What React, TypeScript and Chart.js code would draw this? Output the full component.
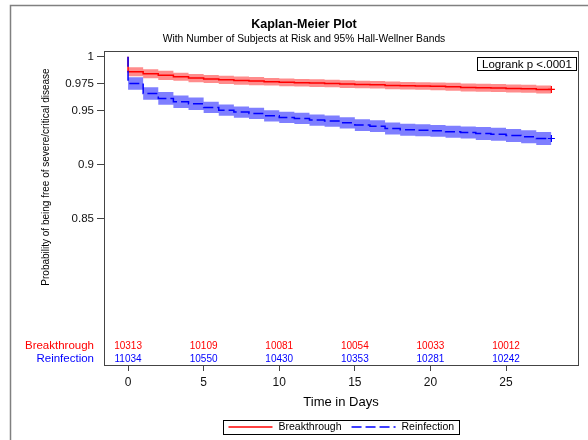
import { useEffect, useRef } from "react";
import { Chart, registerables } from "chart.js";

Chart.register(...registerables);

// Event days (value holds from day d until d + 1) and end of follow-up
const days = [0, 1, 2, 3, 4, 5, 6, 7, 8, 9, 10, 11, 12, 13, 14, 15, 16, 17, 18, 19, 20, 21, 22, 23, 24, 25, 26, 27];
const endDay = 28;

const breakthroughSurv = [
  0.9861, 0.9843, 0.9828, 0.9815, 0.9803, 0.9794, 0.9787, 0.978, 0.9775, 0.9769,
  0.9763, 0.976, 0.9756, 0.9753, 0.9747, 0.9744, 0.9741, 0.9735, 0.9732, 0.9729,
  0.9726, 0.9722, 0.9716, 0.9713, 0.971, 0.9707, 0.9704, 0.9698,
];
const breakthroughUpper = [
  0.9903, 0.9885, 0.987, 0.9853, 0.9841, 0.9832, 0.9825, 0.9818, 0.9813, 0.9804,
  0.9798, 0.9795, 0.9791, 0.9788, 0.9782, 0.9779, 0.9776, 0.977, 0.9767, 0.9764,
  0.9761, 0.9759, 0.9753, 0.975, 0.9747, 0.9744, 0.9741, 0.9735,
];
const breakthroughLower = [
  0.9819, 0.9801, 0.9786, 0.9777, 0.9765, 0.9756, 0.9749, 0.9742, 0.9737, 0.9734,
  0.9728, 0.9725, 0.9721, 0.9718, 0.9712, 0.9709, 0.9706, 0.97, 0.9697, 0.9694,
  0.9691, 0.9685, 0.9679, 0.9676, 0.9673, 0.967, 0.9667, 0.9661,
];

const reinfectionSurv = [
  0.9753, 0.9661, 0.9615, 0.9584, 0.9565, 0.9531, 0.9506, 0.9488, 0.9476, 0.9454,
  0.9439, 0.9429, 0.9414, 0.9405, 0.9389, 0.9368, 0.9358, 0.9336, 0.9325, 0.932,
  0.9315, 0.9306, 0.93, 0.929, 0.9284, 0.9272, 0.926, 0.9244,
];
const reinfectionUpper = [
  0.9811, 0.9719, 0.9673, 0.9642, 0.9623, 0.9583, 0.9558, 0.954, 0.9528, 0.9506,
  0.9491, 0.9481, 0.9466, 0.9457, 0.9441, 0.9423, 0.9413, 0.9391, 0.938, 0.9375,
  0.937, 0.9361, 0.9355, 0.935, 0.9344, 0.9332, 0.932, 0.9304,
];
const reinfectionLower = [
  0.9695, 0.9603, 0.9557, 0.9526, 0.9507, 0.9479, 0.9454, 0.9436, 0.9424, 0.9402,
  0.9387, 0.9377, 0.9362, 0.9353, 0.9337, 0.9313, 0.9303, 0.9281, 0.927, 0.9265,
  0.926, 0.9251, 0.9245, 0.923, 0.9224, 0.9212, 0.92, 0.9184,
];

// Number of subjects at risk
const atRiskDays = [0, 5, 10, 15, 20, 25];
const breakthroughAtRisk = [10313, 10109, 10081, 10054, 10033, 10012];
const reinfectionAtRisk = [11034, 10550, 10430, 10353, 10281, 10242];

const xTickValues = [0, 5, 10, 15, 20, 25];
const yTickValues = [1, 0.975, 0.95, 0.9, 0.85];
const yTickLabels = ["1", "0.975", "0.95", "0.9", "0.85"];

const groupNames = ["Breakthrough", "Reinfection"];
const titleText = "Kaplan-Meier Plot";
const subtitleText = "With Number of Subjects at Risk and 95% Hall-Wellner Bands";
const xTitle = "Time in Days";
const yTitle = "Probability of being free of severe/critical disease";
const logrankText = "Logrank p <.0001";

const FONT = '"Liberation Sans", Arial, Helvetica, sans-serif';
const RED = "#ff0000";
const BLUE = "#0000ff";
const RED_BAND = "rgba(255, 0, 0, 0.45)";
const BLUE_BAND = "rgba(0, 0, 255, 0.5)";
const BLUE_DASH = [10, 4];

function curvePoints(surv: number[]) {
  return [
    { x: 0, y: 1 },
    ...days.map((d, i) => ({ x: d, y: surv[i] })),
    { x: endDay, y: surv[surv.length - 1] },
  ];
}

function bandPoints(vals: number[]) {
  return [
    ...days.map((d, i) => ({ x: d, y: vals[i] })),
    { x: endDay, y: vals[vals.length - 1] },
  ];
}

const lastPointRadius = (n: number) => (ctx: any) => (ctx.dataIndex === n - 1 ? 3.5 : 0);

const decorPlugin = {
  id: "kmDecor",
  afterDraw(chart: any) {
    const { ctx, chartArea: a, scales } = chart;
    const x = scales.x;
    const midX = (a.left + a.right) / 2;
    ctx.save();

    // outer frame
    ctx.strokeStyle = "#808080";
    ctx.lineWidth = 1.5;
    ctx.strokeRect(10.5, 5.5, 800, 600);

    // plot frame
    ctx.strokeStyle = "#444";
    ctx.lineWidth = 1;
    ctx.strokeRect(Math.round(a.left) + 0.5, Math.round(a.top) + 0.5, Math.round(a.right - a.left), Math.round(a.bottom - a.top));

    // titles
    ctx.fillStyle = "#000";
    ctx.textAlign = "center";
    ctx.textBaseline = "alphabetic";
    ctx.font = `bold 12.5px ${FONT}`;
    ctx.fillText(titleText, 304, 28);
    ctx.font = `10.3px ${FONT}`;
    ctx.fillText(subtitleText, 304, 41.5);

    // axis titles
    ctx.textBaseline = "middle";
    ctx.font = `13px ${FONT}`;
    ctx.fillText(xTitle, midX, a.bottom + 37);
    ctx.save();
    ctx.translate(46, a.top + 126);
    ctx.rotate(-Math.PI / 2);
    ctx.font = `10px ${FONT}`;
    ctx.fillText(yTitle, 0, 0);
    ctx.restore();

    // at-risk table
    const rows = [
      { name: groupNames[0], color: RED, counts: breakthroughAtRisk, y: a.bottom - 19 },
      { name: groupNames[1], color: BLUE, counts: reinfectionAtRisk, y: a.bottom - 6 },
    ];
    rows.forEach((r) => {
      ctx.fillStyle = r.color;
      ctx.textAlign = "right";
      ctx.font = `11.5px ${FONT}`;
      ctx.fillText(r.name, a.left - 10, r.y);
      ctx.textAlign = "center";
      ctx.font = `10px ${FONT}`;
      atRiskDays.forEach((d, i) => {
        ctx.fillText(String(r.counts[i]), x.getPixelForValue(d), r.y);
      });
    });

    // logrank inset
    ctx.font = `11.5px ${FONT}`;
    const lw = ctx.measureText(logrankText).width + 9;
    const bx = Math.round(a.right - 2 - lw) + 0.5;
    const by = Math.round(a.top + 6) + 0.5;
    ctx.strokeStyle = "#000";
    ctx.lineWidth = 1;
    ctx.strokeRect(bx, by, Math.round(lw), 13);
    ctx.fillStyle = "#000";
    ctx.textAlign = "left";
    ctx.fillText(logrankText, bx + 4.5, by + 7);

    // legend
    ctx.font = `10.5px ${FONT}`;
    const sample = 44;
    const w1 = ctx.measureText(groupNames[0]).width;
    const w2 = ctx.measureText(groupNames[1]).width;
    const total = 5 + sample + 6 + w1 + 10 + sample + 6 + w2 + 5;
    const lx = Math.round(midX - total / 2) + 0.5;
    const ly = Math.round(a.bottom + 55) + 0.5;
    ctx.strokeStyle = "#000";
    ctx.strokeRect(lx, ly, Math.round(total), 14);
    const cy = ly + 6.5;
    let cx = lx + 5;
    ctx.lineWidth = 1.5;
    ctx.strokeStyle = RED;
    ctx.beginPath();
    ctx.moveTo(cx, cy);
    ctx.lineTo(cx + sample, cy);
    ctx.stroke();
    cx += sample + 6;
    ctx.fillStyle = "#000";
    ctx.fillText(groupNames[0], cx, ly + 7);
    cx += w1 + 10;
    ctx.strokeStyle = BLUE;
    ctx.setLineDash(BLUE_DASH);
    ctx.beginPath();
    ctx.moveTo(cx, cy);
    ctx.lineTo(cx + sample, cy);
    ctx.stroke();
    ctx.setLineDash([]);
    cx += sample + 6;
    ctx.fillText(groupNames[1], cx, ly + 7);

    ctx.restore();
  },
};

export default function App() {
  const canvasRef = useRef<HTMLCanvasElement | null>(null);

  useEffect(() => {
    document.body.style.margin = "0";
    const canvas = canvasRef.current;
    if (!canvas) return;
    const nb = curvePoints(breakthroughSurv).length;
    const nr = curvePoints(reinfectionSurv).length;

    const chart = new Chart(canvas, {
      type: "line",
      data: {
        datasets: [
          {
            label: groupNames[0],
            data: curvePoints(breakthroughSurv),
            order: 1,
            borderColor: RED,
            borderWidth: 1.5,
            stepped: "before",
            fill: false,
            pointStyle: "cross",
            pointRadius: lastPointRadius(nb),
            pointHoverRadius: 0,
            pointBorderColor: RED,
            pointBorderWidth: 1.2,
          },
          {
            label: groupNames[1],
            data: curvePoints(reinfectionSurv),
            order: 0,
            borderColor: BLUE,
            borderWidth: 1.5,
            borderDash: BLUE_DASH,
            stepped: "before",
            fill: false,
            pointStyle: "cross",
            pointRadius: lastPointRadius(nr),
            pointHoverRadius: 0,
            pointBorderColor: BLUE,
            pointBorderWidth: 1.2,
          },
          {
            label: "Breakthrough upper",
            data: bandPoints(breakthroughUpper),
            order: 2,
            borderWidth: 0,
            borderColor: "rgba(0,0,0,0)",
            backgroundColor: RED_BAND,
            stepped: "before",
            pointRadius: 0,
            fill: "+1",
          },
          {
            label: "Breakthrough lower",
            data: bandPoints(breakthroughLower),
            order: 3,
            borderWidth: 0,
            borderColor: "rgba(0,0,0,0)",
            stepped: "before",
            pointRadius: 0,
            fill: false,
          },
          {
            label: "Reinfection upper",
            data: bandPoints(reinfectionUpper),
            order: 2,
            borderWidth: 0,
            borderColor: "rgba(0,0,0,0)",
            backgroundColor: BLUE_BAND,
            stepped: "before",
            pointRadius: 0,
            fill: "+1",
          },
          {
            label: "Reinfection lower",
            data: bandPoints(reinfectionLower),
            order: 3,
            borderWidth: 0,
            borderColor: "rgba(0,0,0,0)",
            stepped: "before",
            pointRadius: 0,
            fill: false,
          },
        ],
      },
      options: {
        responsive: false,
        animation: false,
        events: [],
        layout: { padding: { top: 51, right: 10, bottom: 0, left: 0 } },
        plugins: {
          legend: { display: false },
          tooltip: { enabled: false },
          title: { display: false },
        },
        scales: {
          x: {
            type: "linear",
            min: -1.59,
            max: 29.76,
            afterBuildTicks: (s: any) => {
              s.ticks = xTickValues.map((v) => ({ value: v }));
            },
            afterFit: (s: any) => {
              s.height = 75;
            },
            grid: { drawOnChartArea: false, drawTicks: true, tickLength: 6, color: "#444" },
            border: { display: false },
            ticks: {
              padding: 4,
              color: "#111",
              maxRotation: 0,
              autoSkip: false,
              font: { size: 12, family: FONT },
              callback: (v: any) => String(v),
            },
          },
          y: {
            type: "linear",
            min: 0.715,
            max: 1.0053,
            afterBuildTicks: (s: any) => {
              s.ticks = yTickValues.map((v) => ({ value: v }));
            },
            afterFit: (s: any) => {
              s.width = 104;
            },
            grid: { drawOnChartArea: false, drawTicks: true, tickLength: 7, color: "#444" },
            border: { display: false },
            ticks: {
              padding: 3,
              color: "#111",
              autoSkip: false,
              font: { size: 11.5, family: FONT },
              callback: (_v: any, i: number) => yTickLabels[i],
            },
          },
        },
      },
      plugins: [decorPlugin],
    });

    return () => chart.destroy();
  }, []);

  return (
    <div style={{ position: "fixed", left: 0, top: 0, width: 588, height: 440, background: "#fff" }}>
      <canvas ref={canvasRef} width={588} height={440} />
    </div>
  );
}
